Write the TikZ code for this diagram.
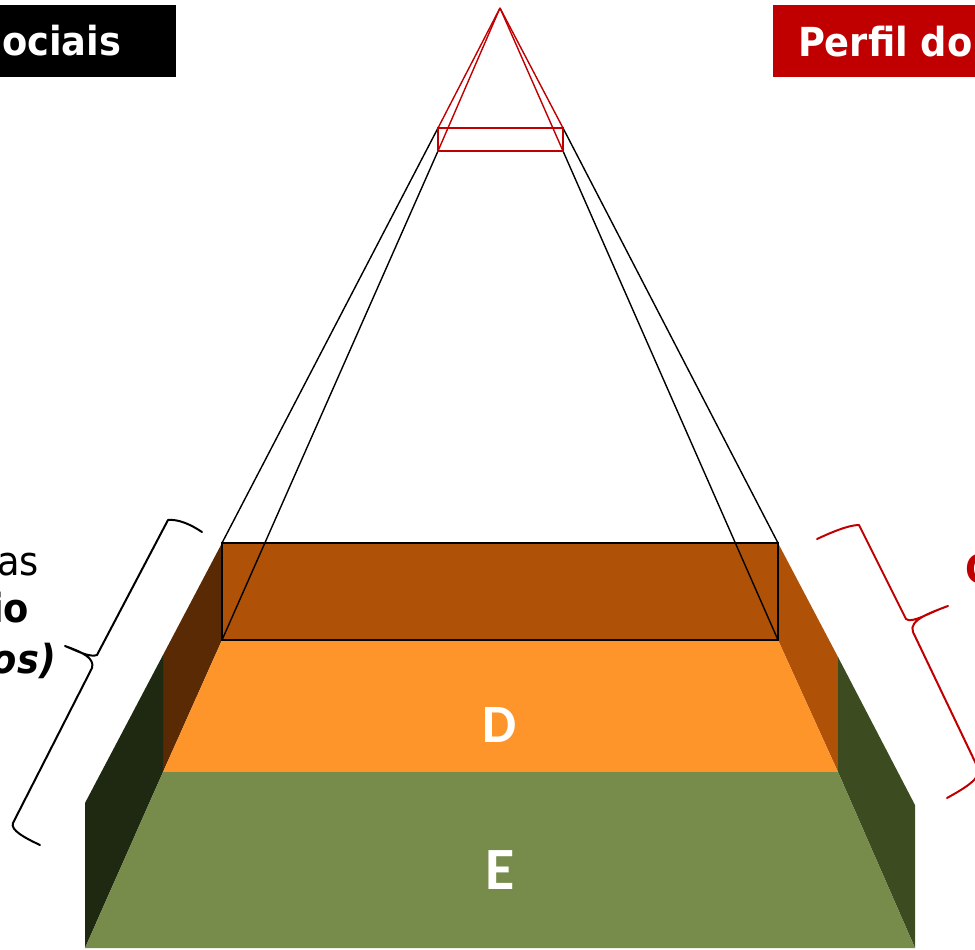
\documentclass[tikz,border=0pt]{standalone}
\usepackage{fontspec}
\setmainfont{DejaVu Sans}[FakeStretch=0.92]
\newfontfamily\calib{Carlito}
\definecolor{brownTop}{HTML}{AF5207}
\definecolor{brownDark}{HTML}{5A2A05}
\definecolor{orangeFace}{HTML}{FE952A}
\definecolor{greenFace}{HTML}{778B4B}
\definecolor{greenDarkL}{HTML}{1F2811}
\definecolor{greenDarkR}{HTML}{3D4C20}
\definecolor{redC}{HTML}{C00000}
\tikzset{
  txt/.style={inner sep=0pt, outer sep=0pt},
  hdr/.style={txt, text=white, font=\fontsize{40}{48}\selectfont\bfseries},
  side/.style={txt, font=\fontsize{40}{48}\selectfont},
  lvl/.style={txt, text=white, font=\calib\bfseries},
  pyr/.style={line width=1.4pt},
  brc/.style={line width=2pt, line join=round, line cap=round},
}
\begin{document}
\begin{tikzpicture}[x=1pt,y=-1pt]
\useasboundingbox (0,0) rectangle (975,950);
% key points
\coordinate (apex) at (500,8);
\coordinate (rTL) at (438,128);
\coordinate (rTR) at (563,128);
\coordinate (rBL) at (438,151);
\coordinate (rBR) at (563,151);
\coordinate (bTL) at (222,543);
\coordinate (bTR) at (778,543);
\coordinate (bBL) at (222,640);
\coordinate (bBR) at (778,640);
\coordinate (oBL) at (163,772);
\coordinate (oBR) at (838,772);
\coordinate (lK) at (163,655);
\coordinate (rK) at (838,657);
\coordinate (lG) at (85,803);
\coordinate (rG) at (915,805);
\coordinate (gBL) at (85,948);
\coordinate (gBR) at (915,948);
% faces
\fill[brownDark] (bTL) -- (lK) -- (oBL) -- (bBL) -- cycle;
\fill[greenDarkL] (lK) -- (lG) -- (gBL) -- (oBL) -- cycle;
\fill[brownTop] (bTR) -- (rK) -- (oBR) -- (bBR) -- cycle;
\fill[greenDarkR] (rK) -- (rG) -- (gBR) -- (oBR) -- cycle;
\fill[orangeFace] (bBL) -- (bBR) -- (oBR) -- (oBL) -- cycle;
\fill[greenFace] (oBL) -- (oBR) -- (gBR) -- (gBL) -- cycle;
\draw[fill=brownTop, line width=1.5pt] (bTL) rectangle (bBR);
% black projection lines
\draw[pyr] (rTL) -- (bTL);
\draw[pyr] (rBL) -- (bBL);
\draw[pyr] (rTR) -- (bTR);
\draw[pyr] (rBR) -- (bBR);
% red small pyramid
\draw[pyr, redC] (apex) -- (rTL);
\draw[pyr, redC] (apex) -- (rBL);
\draw[pyr, redC] (apex) -- (rTR);
\draw[pyr, redC] (apex) -- (rBR);
\draw[pyr, redC] (rTL) rectangle (rBR);
% level labels
\node[lvl, font=\calib\bfseries\fontsize{54}{60}\selectfont] (labD) at (500,725) {D};
\node[lvl, font=\calib\bfseries\fontsize{60}{66}\selectfont] (labE) at (500,870) {E};
% headers
\fill[black] (0,5) rectangle (176,77);
\node[hdr, anchor=base west] (hL) at (2,56) {ociais};
\fill[redC] (773,5) rectangle (980,77);
\node[hdr, anchor=base west] (hR) at (798,57) {Perfil do};
% side texts
\node[side, anchor=base east] (t1) at (39,575) {as};
\node[side, anchor=base east, font=\fontsize{40}{48}\selectfont\bfseries] (t2) at (29,622) {io};
\node[side, anchor=base east, font=\fontsize{40}{48}\selectfont\bfseries\itshape] (t3) at (56,673) {os)};
\node[side, anchor=base west, text=redC, font=\fontsize{40}{48}\selectfont\bfseries] (t4) at (965,583) {C};
% left brace
\coordinate (lbT) at (202,532);
\coordinate (lbC1) at (168,520);
\coordinate (lbM1) at (97,655);
\coordinate (lbTip) at (65,646);
\coordinate (lbM2) at (92,668);
\coordinate (lbC2) at (13,823);
\coordinate (lbB) at (40,845);
\draw[brc] (lbT) .. controls (190,524) and (178,519) .. (lbC1)
  -- (lbM1) .. controls (90,658) and (75,650) .. (lbTip)
  .. controls (82,652) and (95,658) .. (lbM2)
  -- (lbC2) .. controls (10,830) and (25,838) .. (lbB);
% right brace
\coordinate (rbT) at (817,539);
\coordinate (rbC1) at (859,525);
\coordinate (rbM1) at (906,619);
\coordinate (rbTip) at (948,606);
\coordinate (rbM2) at (913,632);
\coordinate (rbC2) at (978,768);
\coordinate (rbB) at (947,798);
\draw[brc, redC] (rbT) .. controls (830,533) and (848,525) .. (rbC1)
  -- (rbM1) .. controls (912,624) and (930,612) .. (rbTip)
  .. controls (932,612) and (908,620) .. (rbM2)
  -- (rbC2) .. controls (982,778) and (965,788) .. (rbB);
\end{tikzpicture}
\end{document}
